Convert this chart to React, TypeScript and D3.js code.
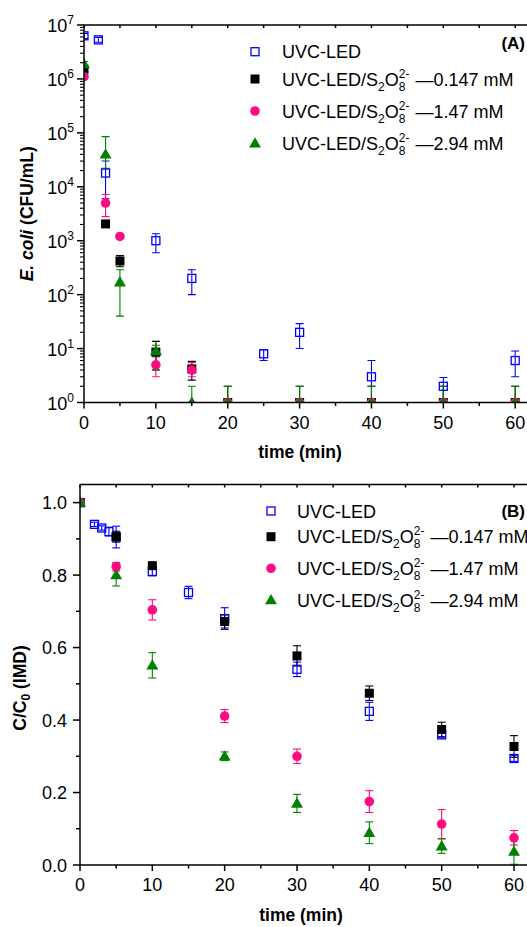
import React from "react";
import * as d3 from "d3";

// ---------- Panel A data (E. coli, CFU/mL; values at detection limit drawn at 1) ----------
const tA_blue = [0, 2, 3, 10, 15, 25, 30, 40, 50, 60];
const vA_blue = [6.3e6, 5.3e6, 1.8e4, 1000, 200, 8, 20, 3, 2, 6];
const hiA_blue = [7.0e6, 5.9e6, 3.0e4, 1350, 290, 9.5, 29, 6, 2.9, 9];
const loA_blue = [5.6e6, 4.8e6, 6.0e3, 600, 100, 6, 10, 1, 1, 3];

const tA_s = [0, 3, 5, 10, 15, 20, 30, 40, 50, 60];
const vA_black = [1.5e6, 2050, 420, 8.6, 4.2, 1, 1, 1, 1, 1];
const hiA_black = [1.6e6, 2200, 530, 13.6, 5.8, 2, 2, 2, 2, 2];
const loA_black = [1.4e6, 1900, 330, 4, 2.6, 1, 1, 1, 1, 1];

const vA_pink = [1.1e6, 5000, 1200, 5, 4, 1, 1, 1, 1, 1];
const hiA_pink = [1.2e6, 7200, 1300, 7, 5.5, 1, 1, 1, 1, 1];
const loA_pink = [1.0e6, 2800, 1100, 3, 3, 1, 1, 1, 1, 1];

const vA_green = [1.9e6, 4e4, 170, 9, 1, 1, 1, 1, 1, 1];
const hiA_green = [2.1e6, 8.5e4, 290, 11.5, 2, 2, 2, 2, 2, 2];
const loA_green = [1.7e6, 2.2e4, 40, 4, 1, 1, 1, 1, 1, 1];

// ---------- Panel B data (C/C0 IMD) ----------
const tB_blue = [0, 2, 3, 4, 5, 10, 15, 20, 30, 40, 50, 60];
const vB_blue = [1.0, 0.94, 0.93, 0.92, 0.905, 0.81, 0.752, 0.68, 0.54, 0.424, 0.359, 0.294];
const eB_blue = [0, 0.006, 0.006, 0.012, 0.03, 0.012, 0.017, 0.03, 0.02, 0.025, 0.008, 0.008];

const tB_s = [0, 5, 10, 20, 30, 40, 50, 60];
const vB_black = [1.0, 0.906, 0.826, 0.672, 0.577, 0.474, 0.374, 0.327];
const eB_black = [0, 0.015, 0.008, 0.018, 0.028, 0.02, 0.02, 0.03];
const vB_pink = [1.0, 0.823, 0.704, 0.411, 0.3, 0.175, 0.113, 0.075];
const eB_pink = [0, 0.012, 0.028, 0.018, 0.02, 0.03, 0.04, 0.02];
const vB_green = [1.0, 0.8, 0.551, 0.3, 0.17, 0.089, 0.052, 0.037];
const eB_green = [0, 0.03, 0.035, 0.012, 0.025, 0.03, 0.02, 0.035];

const xTicks = [0, 10, 20, 30, 40, 50, 60];
const xMinor = [5, 15, 25, 35, 45, 55];
const yTicksA = [0, 1, 2, 3, 4, 5, 6, 7];
const yTicksB = [0.0, 0.2, 0.4, 0.6, 0.8, 1.0];
const yMinorB = [0.1, 0.3, 0.5, 0.7, 0.9];
const legendConc = ["0.147", "1.47", "2.94"];

const BLUE = "#0000ff";
const BLACK = "#000000";
const PINK = "#ff0a80";
const GREEN = "#008000";
const FONT = "'Liberation Sans', Arial, sans-serif";

type Kind = "openSquare" | "square" | "circle" | "triangle";

function Marker({ kind, x, y, color }: { kind: Kind; x: number; y: number; color: string }) {
  if (kind === "openSquare")
    return <rect x={x - 4} y={y - 4} width={8} height={8} fill="none" stroke={color} strokeWidth={1.3} />;
  if (kind === "square")
    return <rect x={x - 4.5} y={y - 4.5} width={9} height={9} fill={color} />;
  if (kind === "circle") return <circle cx={x} cy={y} r={4.8} fill={color} />;
  const s = d3.symbol().type(d3.symbolTriangle).size(62)();
  return <path d={s as string} transform={`translate(${x},${y + 0.8})`} fill={color} />;
}

function ErrBar({ x, y1, y2, color }: { x: number; y1: number; y2: number; color: string }) {
  if (Math.abs(y1 - y2) < 0.5) return null;
  return (
    <g stroke={color} strokeWidth={1.1}>
      <line x1={x} x2={x} y1={y1} y2={y2} />
      <line x1={x - 4} x2={x + 4} y1={y1} y2={y1} />
      <line x1={x - 4} x2={x + 4} y1={y2} y2={y2} />
    </g>
  );
}

function LegendLabel({ x, y, conc }: { x: number; y: number; conc: string | null }) {
  if (conc === null)
    return (
      <text x={x} y={y} fontSize={18} fontFamily={FONT}>
        UVC-LED
      </text>
    );
  return (
    <text x={x} y={y} fontSize={18} fontFamily={FONT} style={{ whiteSpace: "pre" }}>
      UVC-LED/S
      <tspan fontSize={12} dy={5}>2</tspan>
      <tspan dy={-5}>O</tspan>
      <tspan fontSize={12} dy={-8}>2-</tspan>
      <tspan fontSize={12} dx={-10.7} dy={13}>8</tspan>
      <tspan dx={10} dy={-5}>{"\u2014" + conc + " mM"}</tspan>
    </text>
  );
}

function Legend({ mx, tx, rows }: { mx: number; tx: number; rows: number[] }) {
  const kinds: Kind[] = ["openSquare", "square", "circle", "triangle"];
  const cols = [BLUE, BLACK, PINK, GREEN];
  return (
    <g>
      {rows.map((ry, i) => (
        <g key={i}>
          <Marker kind={kinds[i]} x={mx} y={ry} color={cols[i]} />
          <LegendLabel x={tx} y={ry + 6.5} conc={i === 0 ? null : legendConc[i - 1]} />
        </g>
      ))}
    </g>
  );
}

export default function App() {
  const W = 527, H = 927;

  // Panel A
  const aL = 84, aR = 527, aT = 25, aB = 402.5;
  const xA = d3.scaleLinear().domain([0, 60]).range([84, 515.2]);
  const yA = d3.scaleLog().domain([1, 1e7]).range([aB, aT]);

  // Panel B
  const bL = 80, bR = 527, bT = 484.5, bB = 865;
  const xB = d3.scaleLinear().domain([0, 60]).range([80, 514]);
  const yB = d3.scaleLinear().domain([0, 1.05]).range([bB, bT]);

  const seriesA = [
    { t: tA_blue, v: vA_blue, hi: hiA_blue, lo: loA_blue, c: BLUE, k: "openSquare" as Kind },
    { t: tA_s, v: vA_black, hi: hiA_black, lo: loA_black, c: BLACK, k: "square" as Kind },
    { t: tA_s, v: vA_pink, hi: hiA_pink, lo: loA_pink, c: PINK, k: "circle" as Kind },
    { t: tA_s, v: vA_green, hi: hiA_green, lo: loA_green, c: GREEN, k: "triangle" as Kind },
  ];
  const seriesB = [
    { t: tB_blue, v: vB_blue, e: eB_blue, c: BLUE, k: "openSquare" as Kind },
    { t: tB_s, v: vB_black, e: eB_black, c: BLACK, k: "square" as Kind },
    { t: tB_s, v: vB_pink, e: eB_pink, c: PINK, k: "circle" as Kind },
    { t: tB_s, v: vB_green, e: eB_green, c: GREEN, k: "triangle" as Kind },
  ];

  const minorA: number[] = [];
  for (let d = 0; d < 7; d++) for (let m = 2; m <= 9; m++) minorA.push(m * Math.pow(10, d));

  return (
    <svg width={W} height={H} style={{ display: "block", position: "absolute", left: 0, top: 0 }} fontFamily={FONT}>
      <defs>
        <clipPath id="clipA">
          <rect x={aL} y={aT} width={aR - aL} height={aB - aT} />
        </clipPath>
        <clipPath id="clipB">
          <rect x={bL} y={bT} width={bR - bL} height={bB - bT} />
        </clipPath>
      </defs>
      <rect x={0} y={0} width={W} height={H} fill="#fff" />

      {/* ================= Panel A ================= */}
      <g clipPath="url(#clipA)">
        {seriesA.map((s, si) => (
          <g key={"ea" + si}>
            {s.t.map((t, i) => (
              <ErrBar key={i} x={xA(t)} y1={yA(s.hi[i])} y2={yA(s.lo[i])} color={s.c} />
            ))}
          </g>
        ))}
        {seriesA.map((s, si) => (
          <g key={"ma" + si}>
            {s.t.map((t, i) => (
              <Marker key={i} kind={s.k} x={xA(t)} y={yA(s.v[i])} color={s.c} />
            ))}
          </g>
        ))}
      </g>
      {/* axes A */}
      <g stroke="#000" strokeWidth={1.5}>
        <line x1={aL} x2={aR} y1={aB} y2={aB} />
        <line x1={aL} x2={aR} y1={aT} y2={aT} />
        <line x1={aL} x2={aL} y1={aT} y2={aB + 0.75} />
        {xTicks.map((t) => (
          <line key={"xa" + t} x1={xA(t)} x2={xA(t)} y1={aB} y2={aB + 6} />
        ))}
        {xMinor.map((t) => (
          <line key={"xam" + t} x1={xA(t)} x2={xA(t)} y1={aB} y2={aB + 3.5} />
        ))}
        {[...xTicks, ...xMinor].map((t) => (
          <line key={"xat" + t} x1={xA(t)} x2={xA(t)} y1={aT} y2={aT + 3} />
        ))}
        {yTicksA.map((e) => (
          <line key={"ya" + e} x1={aL - 7} x2={aL} y1={yA(Math.pow(10, e))} y2={yA(Math.pow(10, e))} />
        ))}
        {minorA.map((v) => (
          <line key={"yam" + v} x1={aL - 4} x2={aL} y1={yA(v)} y2={yA(v)} strokeWidth={1.1} />
        ))}
      </g>
      {xTicks.map((t) => (
        <text key={"xla" + t} x={xA(t)} y={429} textAnchor="middle" fontSize={18}>
          {t}
        </text>
      ))}
      {yTicksA.map((e) => (
        <text key={"yla" + e} x={74} y={yA(Math.pow(10, e)) + 7} textAnchor="end" fontSize={18}>
          10
          <tspan fontSize={12} dy={-8}>{e}</tspan>
        </text>
      ))}
      <text x={300} y={458} textAnchor="middle" fontSize={17.5} fontWeight="bold">
        time (min)
      </text>
      <text transform={`translate(33,${(aT + aB) / 2}) rotate(-90)`} textAnchor="middle" fontSize={17.5} fontWeight="bold">
        <tspan fontStyle="italic">E. coli</tspan> (CFU/mL)
      </text>
      <text x={525} y={49} textAnchor="end" fontSize={17} fontWeight="bold">
        (A)
      </text>
      <Legend mx={255} tx={282} rows={[51.7, 79, 111, 143.3]} />

      {/* ================= Panel B ================= */}
      <g clipPath="url(#clipB)">
        {seriesB.map((s, si) => (
          <g key={"eb" + si}>
            {s.t.map((t, i) => (
              <ErrBar key={i} x={xB(t)} y1={yB(s.v[i] + s.e[i])} y2={yB(s.v[i] - s.e[i])} color={s.c} />
            ))}
          </g>
        ))}
        {seriesB.map((s, si) => (
          <g key={"mb" + si}>
            {s.t.map((t, i) => (
              <Marker key={i} kind={s.k} x={xB(t)} y={yB(s.v[i])} color={s.c} />
            ))}
          </g>
        ))}
      </g>
      <g stroke="#000" strokeWidth={1.5}>
        <line x1={bL} x2={bR} y1={bB} y2={bB} />
        <line x1={bL} x2={bR} y1={bT} y2={bT} />
        <line x1={bL} x2={bL} y1={bT} y2={bB + 0.75} />
        {xTicks.map((t) => (
          <line key={"xb" + t} x1={xB(t)} x2={xB(t)} y1={bB} y2={bB + 6} />
        ))}
        {xMinor.map((t) => (
          <line key={"xbm" + t} x1={xB(t)} x2={xB(t)} y1={bB} y2={bB + 3.5} />
        ))}
        {[...xTicks, ...xMinor].map((t) => (
          <line key={"xbt" + t} x1={xB(t)} x2={xB(t)} y1={bT} y2={bT + 3} />
        ))}
        {yTicksB.map((v) => (
          <line key={"yb" + v} x1={bL - 7} x2={bL} y1={yB(v)} y2={yB(v)} />
        ))}
        {yMinorB.map((v) => (
          <line key={"ybm" + v} x1={bL - 4} x2={bL} y1={yB(v)} y2={yB(v)} />
        ))}
      </g>
      {xTicks.map((t) => (
        <text key={"xlb" + t} x={xB(t)} y={891} textAnchor="middle" fontSize={18}>
          {t}
        </text>
      ))}
      {yTicksB.map((v) => (
        <text key={"ylb" + v} x={67} y={yB(v) + 6.5} textAnchor="end" fontSize={18}>
          {d3.format(".1f")(v)}
        </text>
      ))}
      <text x={301} y={921} textAnchor="middle" fontSize={17.5} fontWeight="bold">
        time (min)
      </text>
      <text transform={`translate(26,688) rotate(-90)`} textAnchor="middle" fontSize={17.5} fontWeight="bold">
        C/C<tspan fontSize={12} dy={4}>0</tspan>
        <tspan dy={-4}> (IMD)</tspan>
      </text>
      <text x={525} y={517} textAnchor="end" fontSize={17} fontWeight="bold">
        (B)
      </text>
      <Legend mx={271} tx={297} rows={[511, 536.7, 568.3, 600]} />
    </svg>
  );
}
